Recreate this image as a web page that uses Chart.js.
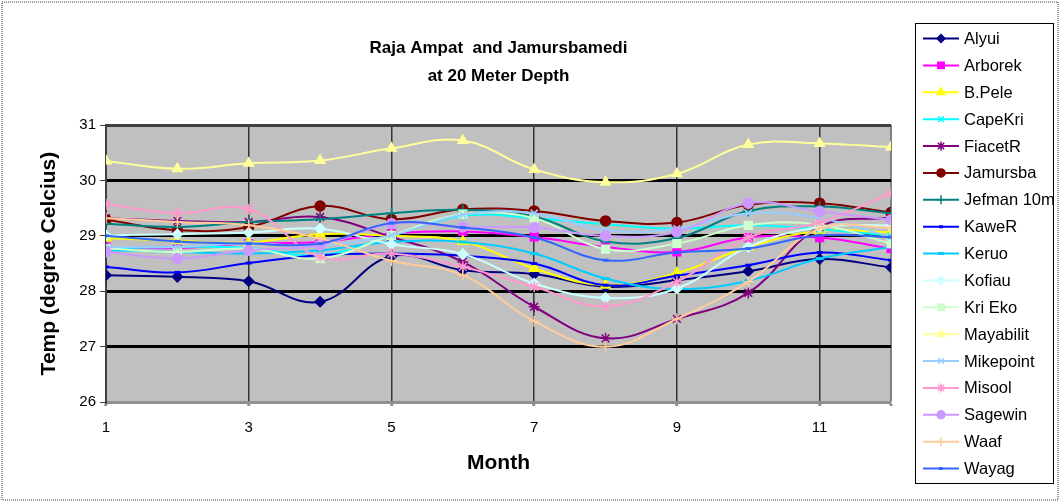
<!DOCTYPE html>
<html>
<head>
<meta charset="utf-8">
<script src="https://cdn.jsdelivr.net/npm/chart.js@4.4.1/dist/chart.umd.min.js"></script>
<style>
  html, body { margin: 0; padding: 0; background: #fff; }
  canvas { display: block; }
</style>
</head>
<body>
<canvas id="chart" width="1061" height="503"></canvas>
<script>
// ---- data -----------------------------------------------------------------
const months = [1, 2, 3, 4, 5, 6, 7, 8, 9, 10, 11, 12];
const monthTicks = [1, 3, 5, 7, 9, 11];
const tempTicks = [26, 27, 28, 29, 30, 31];

const alyui     = [28.29, 28.26, 28.18, 27.81, 28.63, 28.38, 28.31, 28.08, 28.20, 28.36, 28.58, 28.43];
const arborek   = [28.80, 28.78, 28.86, 28.89, 29.04, 29.08, 28.98, 28.80, 28.71, 28.97, 28.97, 28.77];
const bPele     = [28.96, 28.91, 28.88, 29.03, 29.00, 28.90, 28.41, 28.11, 28.33, 28.80, 29.09, 29.06];
const capeKri   = [28.77, 28.80, 28.78, 28.65, 29.00, 29.36, 29.32, 29.21, 29.13, 29.19, 29.12, 29.00];
const fiacetR   = [29.32, 29.27, 29.25, 29.34, 28.98, 28.53, 27.72, 27.15, 27.50, 27.97, 29.16, 29.33];
const jamursba  = [29.29, 29.10, 29.16, 29.54, 29.30, 29.48, 29.45, 29.27, 29.24, 29.56, 29.59, 29.42];
const jefman    = [29.22, 29.16, 29.25, 29.30, 29.41, 29.47, 29.35, 28.90, 28.96, 29.45, 29.53, 29.41];
const kaweR     = [28.44, 28.34, 28.51, 28.65, 28.68, 28.64, 28.50, 28.11, 28.28, 28.47, 28.70, 28.56];
const keruo     = [28.74, 28.71, 28.68, 28.74, 28.89, 28.89, 28.68, 28.23, 28.04, 28.19, 28.59, 28.80];
const kofiau    = [29.01, 29.03, 29.06, 29.13, 28.85, 28.67, 28.14, 27.88, 28.05, 28.80, 29.16, 29.19];
const kriEko    = [28.77, 28.71, 28.77, 28.59, 29.01, 29.39, 29.32, 28.76, 28.86, 29.19, 29.20, 28.86];
const mayabilit = [30.35, 30.21, 30.31, 30.36, 30.58, 30.72, 30.20, 29.97, 30.12, 30.65, 30.67, 30.60];
const mikepoint = [28.80, 28.80, 28.86, 28.83, 29.01, 29.38, 29.41, 29.10, 29.13, 29.41, 29.32, 28.98];
const misool    = [29.57, 29.41, 29.48, 28.62, 28.68, 28.44, 28.08, 27.73, 28.17, 28.97, 29.24, 29.77];
const sagewin   = [28.71, 28.59, 28.74, 28.83, 29.22, 29.16, 29.15, 29.00, 29.07, 29.59, 29.44, 29.29];
const waaf      = [29.32, 29.25, 29.19, 28.95, 28.55, 28.29, 27.46, 27.00, 27.50, 28.17, 29.13, 29.15];
const wayag     = [29.00, 28.90, 28.86, 28.86, 29.23, 29.15, 28.97, 28.56, 28.70, 28.77, 29.01, 28.98];

// name, values, colour, marker, marker radius
const SERIES = [
  ["Alyui",      alyui,     "#000080", "rectRot",  5],
  ["Arborek",    arborek,   "#FF00FF", "rect",     5.5],
  ["B.Pele",     bPele,     "#FFFF00", "triangle", 5.5],
  ["CapeKri",    capeKri,   "#00FFFF", "crossRot", 5],
  ["FiacetR",    fiacetR,   "#800080", "star",     5.5],
  ["Jamursba",   jamursba,  "#800000", "circle",   5],
  ["Jefman 10m", jefman,    "#008080", "cross",    5.5],
  ["KaweR",      kaweR,     "#0000FF", "line",     3],
  ["Keruo",      keruo,     "#00CCFF", "line",     4],
  ["Kofiau",     kofiau,    "#CCFFFF", "rectRot",  5],
  ["Kri Eko",    kriEko,    "#CCFFCC", "rect",     5.5],
  ["Mayabilit",  mayabilit, "#FFFF99", "triangle", 5.5],
  ["Mikepoint",  mikepoint, "#99CCFF", "crossRot", 5],
  ["Misool",     misool,    "#FF99CC", "star",     5.5],
  ["Sagewin",    sagewin,   "#CC99FF", "circle",   5],
  ["Waaf",       waaf,      "#FFCC99", "cross",    5.5],
  ["Wayag",      wayag,     "#3366FF", "line",     3],
];

const FONT = '"Liberation Sans", Arial, sans-serif';
Chart.defaults.font.family = FONT;
Chart.defaults.color = "#000";

const datasets = SERIES.map(([label, vals, color, style, r], i) => ({
  label,
  data: months.map((m, k) => ({ x: m, y: vals[k] })),
  borderColor: color,
  backgroundColor: color,
  borderWidth: 2,
  pointStyle: style,
  pointRadius: r,
  pointBorderWidth: style === "line" ? 3 : 1.5,
  pointBorderColor: color,
  pointBackgroundColor: color,
  tension: 0.4,
  order: SERIES.length - i, // later series on top, like the original
}));

// ---- plugins: frame, plot background, legend box ---------------------------
const frame = {
  id: "frame",
  beforeDraw(chart) {
    const { ctx, chartArea: a } = chart;
    ctx.save();
    ctx.fillStyle = "#fff";
    ctx.fillRect(0, 0, chart.width, chart.height);
    ctx.strokeStyle = "#9a9a9a";
    ctx.lineWidth = 2;
    ctx.setLineDash([1, 1]);
    ctx.strokeRect(2, 2, chart.width - 5, chart.height - 5);
    ctx.setLineDash([]);
    ctx.fillStyle = "#C0C0C0";
    ctx.fillRect(a.left, a.top, a.right - a.left, a.bottom - a.top);
    ctx.restore();
  },
};

const boxLegend = {
  id: "boxLegend",
  afterDraw(chart) {
    const { ctx } = chart;
    const x0 = 915.5, y0 = 23.5, w = 138, h = 460, step = 26.875;
    ctx.save();
    ctx.strokeStyle = "#000";
    ctx.lineWidth = 1;
    ctx.strokeRect(x0, y0, w, h);
    ctx.beginPath();
    ctx.rect(x0, y0, w, h);
    ctx.clip();
    ctx.font = "16.5px " + FONT;
    ctx.textBaseline = "middle";
    chart.data.datasets.forEach((ds, i) => {
      const y = 38.5 + i * step;
      ctx.strokeStyle = ds.borderColor;
      ctx.lineWidth = 2;
      ctx.beginPath();
      ctx.moveTo(923, y);
      ctx.lineTo(959, y);
      ctx.stroke();
      ctx.fillStyle = ds.pointBackgroundColor;
      ctx.strokeStyle = ds.pointBorderColor;
      ctx.lineWidth = ds.pointBorderWidth;
      Chart.helpers.drawPoint(ctx, {
        pointStyle: ds.pointStyle, radius: ds.pointRadius - 1, rotation: 0, borderWidth: ds.pointBorderWidth,
      }, 941, y);
      ctx.fillStyle = "#000";
      ctx.fillText(ds.label, 964, y + 1);
    });
    ctx.restore();
  },
};

// ---- chart ----------------------------------------------------------------
new Chart(document.getElementById("chart"), {
  type: "line",
  data: { datasets },
  plugins: [frame, boxLegend],
  options: {
    responsive: false,
    devicePixelRatio: 1,
    animation: false,
    layout: { padding: { top: 33, right: 170, left: 0, bottom: 0 } },
    plugins: {
      legend: { display: false },
      tooltip: { enabled: false },
      title: {
        display: true,
        fullSize: false,
        text: ["Raja Ampat  and Jamursbamedi", "at 20 Meter Depth"],
        color: "#000",
        font: { size: 17, weight: "bold", lineHeight: 1.65 },
        padding: { top: 1, bottom: 35 },
      },
    },
    scales: {
      x: {
        type: "linear",
        min: 1,
        max: 12,
        afterFit: (s) => { s.height = 101; },
        afterBuildTicks: (s) => { s.ticks = monthTicks.concat([12]).map(v => ({ value: v })); },
        ticks: {
          autoSkip: false,
          padding: 13,
          font: { size: 15 },
          color: "#000",
          callback: (v) => (monthTicks.includes(v) ? String(v) : ""),
        },
        grid: {
          color: (c) => (c.tick && c.tick.value === 12 ? "#808080" : "#333"),
          lineWidth: (c) => (c.tick && c.tick.value === 12 ? 2 : 1.5),
          tickColor: "#909090",
          tickWidth: 3,
          tickLength: 4,
        },
        border: { display: true, color: "#909090", width: 3 },
        title: {
          display: true,
          text: "Month",
          color: "#000",
          font: { size: 21, weight: "bold" },
          padding: { top: 0, bottom: 27 },
        },
      },
      y: {
        min: 26,
        max: 31,
        afterFit: (s) => { s.width = 106; },
        afterBuildTicks: (s) => { s.ticks = tempTicks.map(v => ({ value: v })); },
        ticks: { padding: 4, font: { size: 15 }, color: "#000" },
        grid: {
          color: (c) => (c.tick.value === 31 ? "#404040" : c.tick.value === 26 ? "#909090" : "#000"),
          lineWidth: 3,
          tickColor: "#404040",
          tickWidth: 1,
          tickLength: 6,
        },
        border: { display: true, color: "#404040", width: 2 },
        title: {
          display: true,
          text: "Temp (degree Celcius)",
          color: "#000",
          font: { size: 21, weight: "bold" },
          padding: { top: 37, bottom: 0 },
        },
      },
    },
  },
});
</script>
</body>
</html>
